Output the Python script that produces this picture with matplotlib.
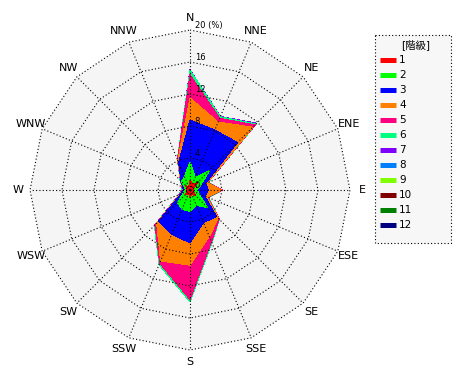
"""Wind rose: frequency (%) of wind direction by speed class, stacked."""

import matplotlib.pyplot as plt
import numpy as np
from matplotlib.patches import Polygon, Rectangle

plt.rcParams["font.family"] = ["DejaVu Sans", "Noto Sans CJK JP"]

# 16 directions, clockwise from north
directions = ["N", "NNE", "NE", "ENE", "E", "ESE", "SE", "SSE",
              "S", "SSW", "SW", "WSW", "W", "WNW", "NW", "NNW"]

# frequency (%) of each speed class per direction
class_1 = [1.2, 0.8, 1.3, 0.5, 0.4, 0.5, 1.0, 0.6, 0.9, 0.5, 0.8, 0.4, 0.4, 0.3, 0.8, 0.4]
class_2 = [2.3, 0.9, 2.2, 0.9, 0.5, 0.7, 2.1, 1.5, 1.8, 2.1, 1.4, 0.5, 0.15, 0.4, 0.7, 1.4]
class_3 = [5.25, 6.4, 4.9, 0.7, 1.4, 0.8, 1.6, 2.3, 3.9, 3.4, 3.3, 0.35, 0.3, 0.3, 0.1, 1.9]
class_4 = [2.75, 1.1, 2.7, 0.25, 1.6, 0.35, 0.3, 1.9, 2.8, 3.6, 0.4, 0.1, 0.05, 0.05, 0.05, 0.3]
class_5 = [2.9, 0.5, 0.4, 0.05, 0.15, 0.1, 0.15, 0.7, 4.3, 0.3, 0.3, 0.1, 0.05, 0.05, 0.05, 0.1]
class_6 = [0.6, 0.2, 0.2, 0.05, 0.05, 0.05, 0.05, 0.15, 0.3, 0.2, 0.1, 0.05, 0.05, 0.02, 0.05, 0.05]
class_7 = [0.02, 0.05, 0.1, 0, 0, 0, 0, 0, 0, 0, 0, 0, 0, 0, 0, 0]
class_8 = [0] * 16
class_9 = [0] * 16
class_10 = [0] * 16
class_11 = [0] * 16
class_12 = [0] * 16

class_labels = ["1", "2", "3", "4", "5", "6", "7", "8", "9", "10", "11", "12"]
class_colors = ["#ff0000", "#00ff00", "#0000ff", "#ff8000", "#ff0080", "#00ff80",
                "#8000ff", "#0080ff", "#80ff00", "#800000", "#008000", "#000080"]
ring_values = [4, 8, 12, 16, 20]
legend_title = "[階級]"

classes = [class_1, class_2, class_3, class_4, class_5, class_6,
           class_7, class_8, class_9, class_10, class_11, class_12]
cumulative = np.cumsum(np.array(classes, dtype=float), axis=0)

theta = np.deg2rad(np.arange(len(directions)) * 360.0 / len(directions))
sin_t, cos_t = np.sin(theta), np.cos(theta)


def ring_xy(radius):
    r = np.broadcast_to(radius, theta.shape)
    return np.column_stack([r * sin_t, r * cos_t])


# 1 unit (%) = 8 px, centre of the rose at pixel (190, 190)
fig = plt.figure(figsize=(4.7, 3.8), dpi=100)
ax = fig.add_axes([0, 0, 1, 1])
ax.set_xlim(-190 / 8, 280 / 8)
ax.set_ylim(-190 / 8, 190 / 8)
ax.set_aspect("equal")
ax.axis("off")

outer = ring_values[-1]
ax.add_patch(Polygon(ring_xy(outer), closed=True, facecolor="#f5f5f5",
                     edgecolor="none", zorder=0))

# largest cumulative first so lower classes sit on top
for i in range(len(classes) - 1, -1, -1):
    ax.add_patch(Polygon(ring_xy(cumulative[i]), closed=True,
                         facecolor=class_colors[i], edgecolor="none",
                         antialiased=False, zorder=1 + (len(classes) - i) * 0.01))

dotted = dict(color="black", linewidth=0.8, linestyle=(0, (1, 2)), zorder=3)
for rv in ring_values:
    pts = ring_xy(rv)
    pts = np.vstack([pts, pts[:1]])
    ax.plot(pts[:, 0], pts[:, 1], **dotted)
for k in range(len(directions)):
    ax.plot([0, outer * sin_t[k]], [0, outer * cos_t[k]], **dotted)

for k, name in enumerate(directions):
    ax.text(21.5 * sin_t[k], 21.5 * cos_t[k], name, ha="center", va="center",
            fontsize=8, zorder=4)

ax.text(0.6, 0, "0", ha="left", va="bottom", fontsize=6, zorder=4)
for rv in ring_values:
    label = f"{rv} (%)" if rv == outer else str(rv)
    ax.text(0.6, rv, label, ha="left", va="bottom", fontsize=6, zorder=4)

# legend drawn in pixel coordinates
lax = fig.add_axes([0, 0, 1, 1], facecolor="none")
lax.set_xlim(0, 470)
lax.set_ylim(380, 0)
lax.axis("off")
lax.add_patch(Rectangle((375, 35), 76, 208, facecolor="#f7f7f7",
                        edgecolor="black", linewidth=0.8, linestyle=(0, (1, 2))))
lax.text(416, 45, legend_title, ha="center", va="center", fontsize=7.5)
for i, (lab, col) in enumerate(zip(class_labels, class_colors)):
    y = 60 + 15 * i
    lax.plot([380, 396], [y, y], color=col, linewidth=3.6, solid_capstyle="butt")
    lax.text(399, y, lab, ha="left", va="center", fontsize=7.5)

fig.savefig("out.png", dpi=100)
